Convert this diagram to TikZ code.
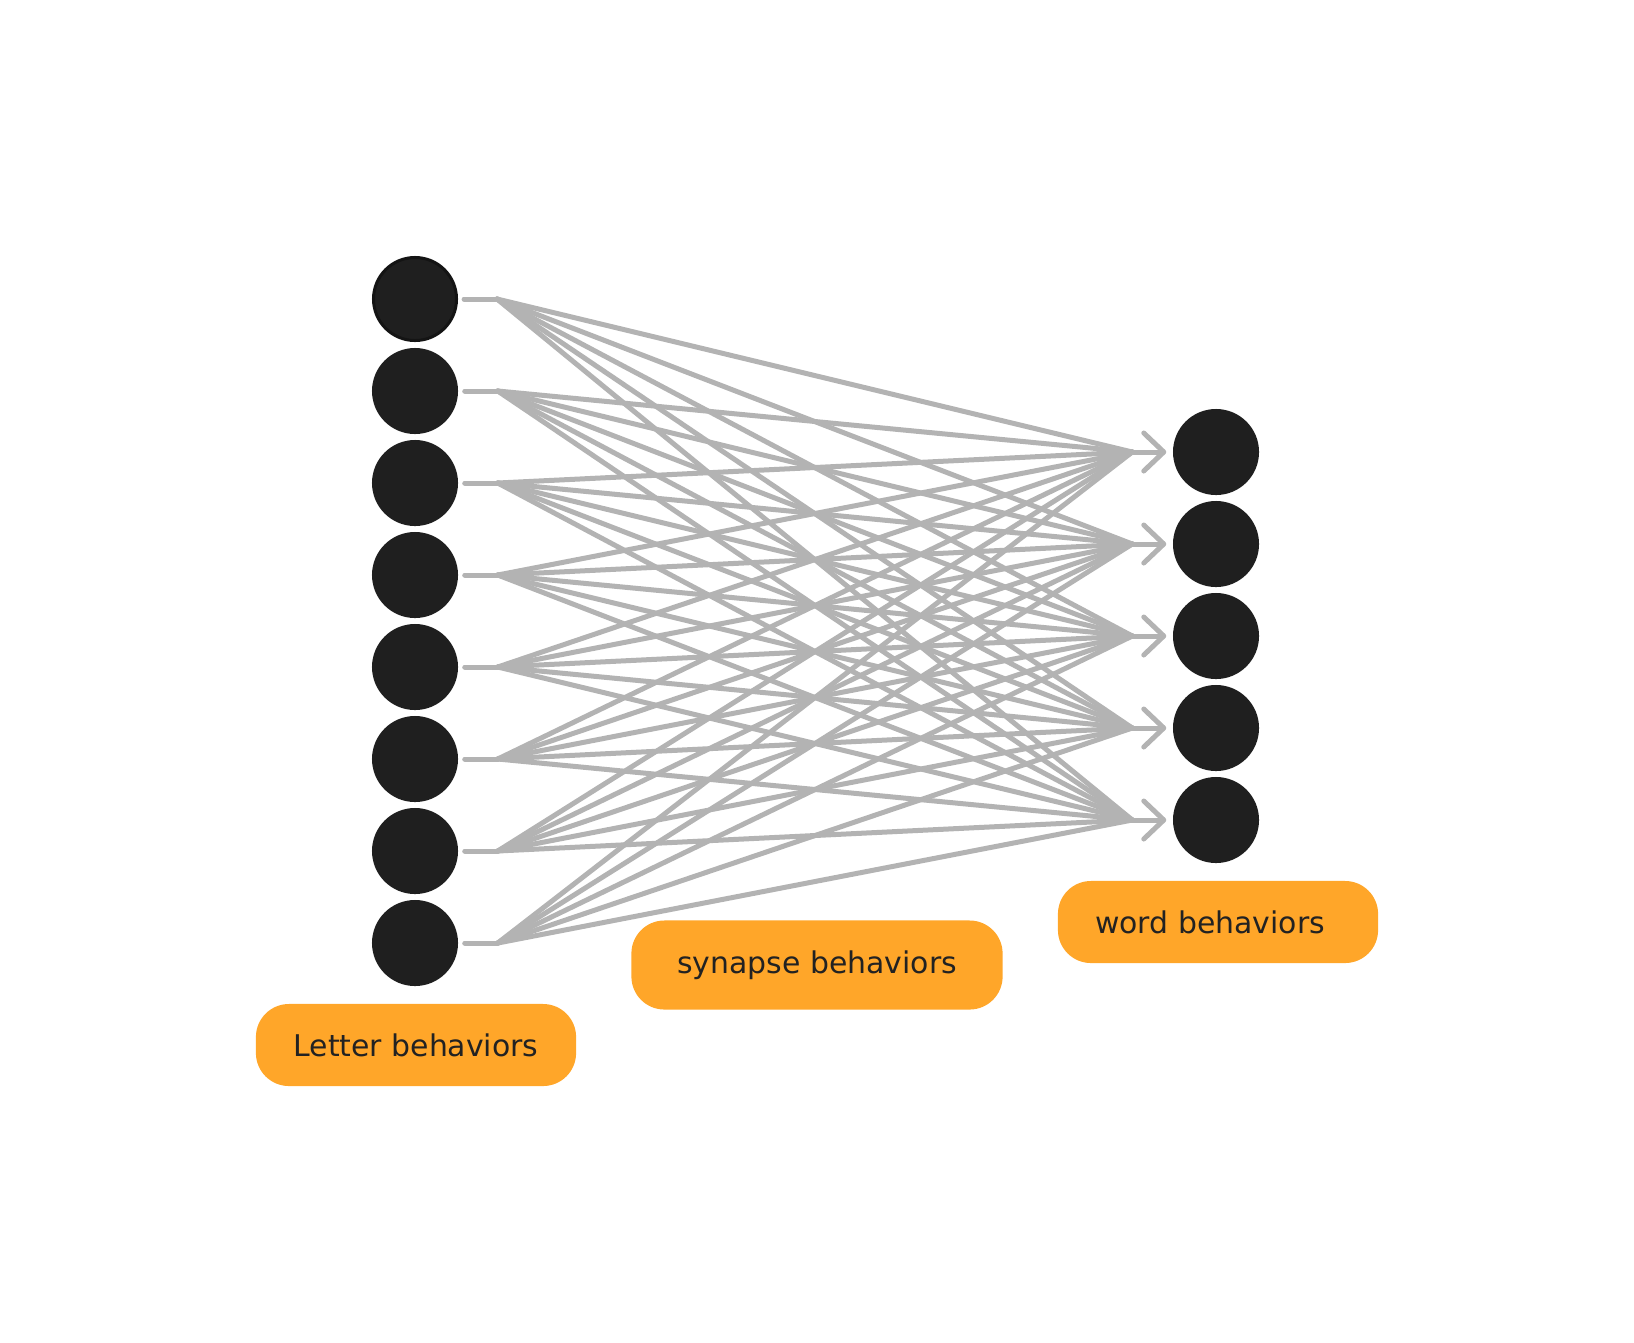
\documentclass[tikz,border=0pt]{standalone}
\usepackage{fontspec}
\usepackage{tikz}
\usetikzlibrary{positioning,arrows.meta,calc}
\newfontfamily\labelfont{DejaVu Sans}
\definecolor{neuronclr}{RGB}{31,31,31}
\definecolor{ringclr}{RGB}{20,20,20}
\definecolor{synclr}{RGB}{179,179,179}
\definecolor{tagclr}{RGB}{255,166,41}
\definecolor{txtclr}{RGB}{34,34,34}
\tikzset{
  neuron/.style={circle,fill=neuronclr,minimum size=0.86cm,inner sep=0pt},
  tag/.style={rectangle,fill=tagclr,rounded corners=0.33cm,text=txtclr,
              minimum width=3.2cm,minimum height=0.82cm,
              font=\labelfont\fontsize{8.5}{10}\selectfont},
  syn/.style={draw=synclr,line width=0.05cm,line cap=round,line join=round},
  synarrow/.style={syn,-{Straight Barb[length=0.2cm,width=0.38cm,round]}},
}

\begin{document}
\begin{tikzpicture}[x=0.01cm,y=-0.01cm]
\useasboundingbox (0,0) rectangle (1634,1342);
\node[neuron,draw=ringclr,line width=0.03cm,minimum size=0.83cm] (l1) at (415,299) {};
\foreach \i in {2,...,8}
  \node[neuron] (l\i) at (415,{299+92*(\i-1)}) {};
\foreach \j in {1,...,5}
  \node[neuron] (w\j) at (1216,{452+92*(\j-1)}) {};
\foreach \i in {1,...,8}
  \coordinate (lj\i) at ($(l\i.east)+(39,0)$);
\foreach \j in {1,...,5}
  \coordinate (wj\j) at ($(w\j.west)+(-40,0)$);
\foreach \i in {1,...,8}
  \draw[syn] ([xshift=0.06cm]l\i.east) -- (lj\i);
\foreach \i in {1,...,8}
  \foreach \j in {1,...,5}
    \draw[syn] (lj\i) -- (wj\j);
\foreach \j in {1,...,5}
  \draw[synarrow] (wj\j) -- ([xshift=-0.06cm]w\j.west);
\node[tag] (letter) at (416,1045) {Letter behaviors};
\node[tag,minimum width=3.71cm,minimum height=0.89cm] (synapse) at (817,965) {synapse behaviors};
\node[tag] (word) at (1218,922) {\hspace*{-0.16cm}word behaviors};
\end{tikzpicture}
\end{document}
